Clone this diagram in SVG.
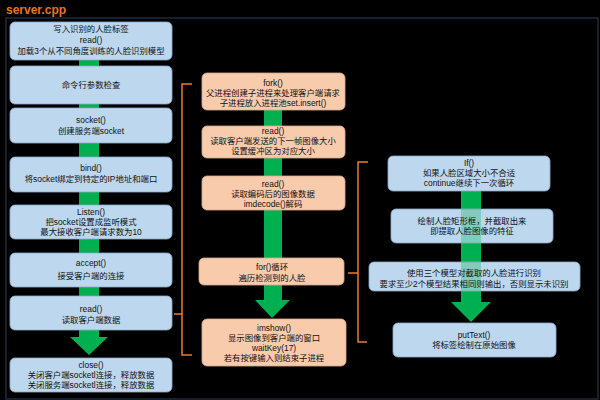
<svg xmlns="http://www.w3.org/2000/svg" width="600" height="400" viewBox="0 0 600 400">
<style>
.t{font-family:"Liberation Sans","Noto Sans CJK SC",sans-serif;font-size:8.4px;fill:#111;text-anchor:middle}
.b{fill:#bdd7ee;stroke:#8ea9c9;stroke-width:0.8}
.p{fill:#f8cbad;stroke:#d8ab8c;stroke-width:0.8}
.g{fill:#00b050}
.gl{fill:#00b050;fill-opacity:0.3}
.br{fill:none;stroke:#e97c30;stroke-width:1.5}
</style>
<rect x="0" y="0" width="600" height="400" fill="#000"/>
<text x="6" y="14" font-family="Liberation Sans,sans-serif" font-size="12" font-weight="bold" fill="#e6761e">server.cpp</text>
<rect x="6" y="18" width="592" height="381" fill="#000" stroke="#1f2a3d" stroke-width="1.5"/>
<g id="connectors">
<rect class="g" x="79" y="60" width="20" height="6"/>
<rect class="g" x="79" y="104" width="20" height="4"/>
<rect class="g" x="79" y="143" width="20" height="14"/>
<rect class="g" x="79" y="192" width="20" height="13"/>
<rect class="g" x="79" y="239" width="20" height="14"/>
<rect class="g" x="79" y="287" width="20" height="9"/>
<polygon class="g" points="79,330 99,330 99,337 108,337 89,355 70,337 79,337"/>
<rect class="g" x="264" y="110" width="18" height="16"/>
<rect class="g" x="264" y="158" width="18" height="18"/>
<rect class="g" x="264" y="210" width="18" height="48"/>
<polygon class="g" points="264,285 282,285 282,300 290,300 272,318 255,300 264,300"/>
<polygon class="g" points="461,191 481,191 481,302 491,302 471,322 451,302 461,302"/>
<path class="br" d="M192,84 H182 V314 H174 M182,314 V355 H192"/>
<path class="br" d="M368,162 H358 V273 H348 M358,273 V342 H367"/>
</g>
<g id="n1"><rect class="b" x="10" y="22" width="162" height="38" rx="5"/>
<text class="t" x="91" y="32">写入识别的人脸标签</text><text class="t" x="91" y="43">read()</text><text class="t" x="91" y="54">加载3个从不同角度训练的人脸识别模型</text></g>
<g id="n2"><rect class="b" x="10" y="66" width="162" height="38" rx="5"/>
<text class="t" x="91" y="88">命令行参数检查</text></g>
<g id="n3"><rect class="b" x="10" y="108" width="162" height="35" rx="5"/>
<text class="t" x="91" y="123">socket()</text><text class="t" x="91" y="134">创建服务端socket</text></g>
<g id="n4"><rect class="b" x="10" y="157" width="162" height="35" rx="5"/>
<text class="t" x="91" y="171">bind()</text><text class="t" x="91" y="182">将socket绑定到特定的IP地址和端口</text></g>
<g id="n5"><rect class="b" x="10" y="205" width="162" height="34" rx="5"/>
<text class="t" x="91" y="215">Listen()</text><text class="t" x="91" y="225">把socket设置成监听模式</text><text class="t" x="91" y="235">最大接收客户端请求数为10</text></g>
<g id="n6"><rect class="b" x="10" y="253" width="162" height="34" rx="5"/>
<text class="t" x="91" y="266">accept()</text><text class="t" x="91" y="279">接受客户端的连接</text></g>
<g id="n7"><rect class="b" x="10" y="296" width="162" height="34" rx="5"/>
<text class="t" x="91" y="312">read()</text><text class="t" x="91" y="323">读取客户端数据</text></g>
<g id="n8"><rect class="b" x="10" y="358" width="162" height="34" rx="5"/>
<text class="t" x="91" y="368">close()</text><text class="t" x="91" y="378">关闭客户端socketl连接，释放数据</text><text class="t" x="91" y="388">关闭服务端socketl连接，释放数据</text></g>
<g id="m1"><rect class="p" x="202" y="73" width="143" height="37" rx="5"/>
<text class="t" x="273" y="86">fork()</text><text class="t" x="273" y="96">父进程创建子进程来处理客户端请求</text><text class="t" x="273" y="106">子进程放入进程池set.insert()</text></g>
<g id="m2"><rect class="p" x="202" y="126" width="143" height="32" rx="5"/>
<text class="t" x="273" y="134">read()</text><text class="t" x="273" y="144">读取客户端发送的下一帧图像大小</text><text class="t" x="273" y="154">设置缓冲区为对应大小</text></g>
<g id="m3"><rect class="p" x="202" y="176" width="143" height="34" rx="5"/>
<text class="t" x="273" y="187">read()</text><text class="t" x="273" y="197">读取编码后的图像数据</text><text class="t" x="273" y="207">imdecode()解码</text></g>
<g id="m4"><rect class="p" x="199" y="258" width="145" height="27" rx="5"/>
<text class="t" x="272" y="270">for()循环</text><text class="t" x="272" y="281">遍历检测到的人脸</text></g>
<g id="m5"><rect class="p" x="202" y="319" width="144" height="47" rx="5"/>
<text class="t" x="274" y="331">imshow()</text><text class="t" x="274" y="341">显示图像到客户端的窗口</text><text class="t" x="274" y="351">waitKey(17)</text><text class="t" x="274" y="361">若有按键输入则结束子进程</text></g>
<g id="r1"><rect class="b" x="388" y="156" width="162" height="35" rx="5"/>
<text class="t" x="469" y="166">If()</text><text class="t" x="469" y="176">如果人脸区域大小不合适</text><text class="t" x="469" y="186">continue继续下一次循环</text></g>
<g id="r2"><rect class="b" x="391" y="209" width="162" height="34" rx="5"/><rect class="gl" x="461" y="209" width="20" height="34"/>
<text class="t" x="472" y="224">绘制人脸矩形框，并截取出来</text><text class="t" x="472" y="234">即提取人脸图像的特征</text></g>
<g id="r3"><rect class="b" x="369" y="262" width="211" height="29" rx="5"/><rect class="gl" x="461" y="262" width="20" height="29"/>
<text class="t" x="474" y="276">使用三个模型对截取的人脸进行识别</text><text class="t" x="474" y="287">要求至少2个模型结果相同则输出，否则显示未识别</text></g>
<g id="r4"><rect class="b" x="393" y="323" width="163" height="34" rx="5"/>
<text class="t" x="474" y="338">putText()</text><text class="t" x="474" y="348">将标签绘制在原始图像</text></g>
</svg>
